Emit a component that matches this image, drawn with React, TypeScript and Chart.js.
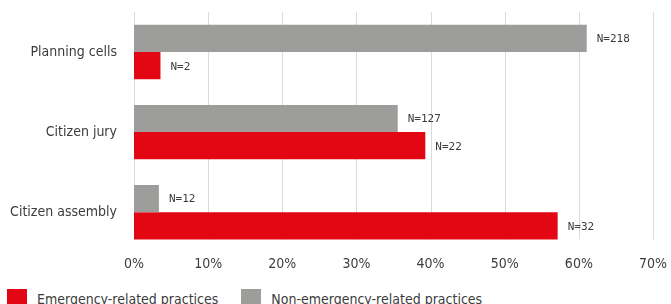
import React, { useEffect, useRef } from 'react';
import { Chart, registerables } from 'chart.js';

Chart.register(...registerables);

const categories = ['Planning cells', 'Citizen jury', 'Citizen assembly'];
const seriesNames = ['Emergency-related practices', 'Non-emergency-related practices'];
const emergencyPct = [3.57, 39.29, 57.14];
const nonEmergencyPct = [61.06, 35.57, 3.36];
const emergencyN = ['N=2', 'N=22', 'N=32'];
const nonEmergencyN = ['N=218', 'N=127', 'N=12'];
const xMax = 70;
const xStep = 10;

const RED = '#e30613';
const GRAY = '#9d9d9c';
const TEXT = '#3c3c3b';
const GRID = '#dadada';
const FONT = '"DejaVu Sans Condensed", "DejaVu Sans", sans-serif';

const gridPlugin = {
  id: 'customGrid',
  beforeDatasetsDraw(chart: any) {
    const { ctx, chartArea } = chart;
    const xs = chart.scales.x;
    const meta = chart.getDatasetMeta(1);
    const last = meta.data[meta.data.length - 1];
    const bottom = last ? last.y + last.height / 2 : chartArea.bottom;
    ctx.save();
    ctx.strokeStyle = GRID;
    ctx.lineWidth = 1;
    xs.ticks.forEach((t: any) => {
      const px = Math.round(xs.getPixelForValue(t.value)) + 0.5;
      ctx.beginPath();
      ctx.moveTo(px, chartArea.top);
      ctx.lineTo(px, bottom);
      ctx.stroke();
    });
    ctx.restore();
  },
};

const labelPlugin = {
  id: 'nLabels',
  afterDatasetsDraw(chart: any) {
    const { ctx } = chart;
    const labels = [nonEmergencyN, emergencyN];
    ctx.save();
    ctx.font = '11px "DejaVu Sans Mono", monospace';
    ctx.fillStyle = TEXT;
    ctx.textAlign = 'left';
    ctx.textBaseline = 'middle';
    chart.data.datasets.forEach((_: any, i: number) => {
      const meta = chart.getDatasetMeta(i);
      meta.data.forEach((bar: any, j: number) => {
        ctx.fillText(labels[i][j], bar.x + 10, bar.y + 1);
      });
    });
    ctx.restore();
  },
};

export default function App() {
  const ref = useRef<HTMLCanvasElement>(null);

  useEffect(() => {
    const chart = new Chart(ref.current!, {
      type: 'bar',
      data: {
        labels: categories,
        datasets: [
          {
            label: seriesNames[1],
            data: nonEmergencyPct,
            backgroundColor: GRAY,
            categoryPercentage: 0.68,
            barPercentage: 1,
          },
          {
            label: seriesNames[0],
            data: emergencyPct,
            backgroundColor: RED,
            categoryPercentage: 0.68,
            barPercentage: 1,
          },
        ],
      },
      options: {
        indexAxis: 'y',
        animation: false,
        responsive: false,
        maintainAspectRatio: false,
        layout: { padding: { left: 0, right: 17, top: 12, bottom: 4 } },
        plugins: {
          legend: { display: false },
          tooltip: { enabled: false },
        },
        scales: {
          x: {
            min: 0,
            max: xMax,
            grid: { display: false, drawTicks: false },
            border: { display: false },
            ticks: {
              stepSize: xStep,
              padding: 4,
              color: TEXT,
              font: { family: FONT, size: 14 },
              callback: (v: any) => v + '%',
            },
          },
          y: {
            grid: { display: false, drawTicks: false },
            border: { display: false },
            afterFit: (scale: any) => {
              scale.width = 134;
              scale.paddingTop = 0;
              scale.paddingBottom = 0;
            },
            ticks: {
              padding: 17,
              color: TEXT,
              font: { family: FONT, size: 14 },
            },
          },
        },
      },
      plugins: [gridPlugin, labelPlugin],
    });
    return () => chart.destroy();
  }, []);

  const legendItems = [
    { name: seriesNames[0], color: RED },
    { name: seriesNames[1], color: GRAY },
  ];

  return (
    <div style={{ position: 'absolute', left: 0, top: 0, width: 671, height: 320 }}>
      <canvas ref={ref} width={671} height={281} style={{ display: 'block' }} />
      <div
        style={{
          position: 'absolute',
          left: 7,
          top: 289,
          display: 'flex',
          alignItems: 'center',
          fontFamily: FONT,
          fontSize: 14,
          lineHeight: '20px',
          color: TEXT,
          whiteSpace: 'nowrap',
        }}
      >
        {legendItems.map((it, i) => (
          <div key={i} style={{ display: 'flex', alignItems: 'center', marginRight: 23 }}>
            <span style={{ display: 'inline-block', width: 20, height: 20, background: it.color, marginRight: 10 }} />
            <span>{it.name}</span>
          </div>
        ))}
      </div>
    </div>
  );
}
